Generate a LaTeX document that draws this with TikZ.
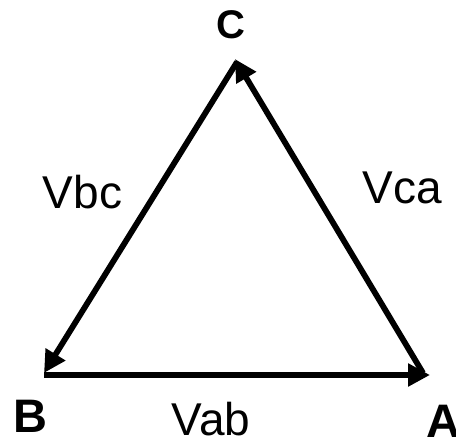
\documentclass[tikz,border=0pt]{standalone}
\usepackage{fontspec}
\setmainfont{Liberation Sans}
\usetikzlibrary{arrows.meta}
\begin{document}
\begin{tikzpicture}[x=1pt,y=-1pt,
  side/.style={line width=5.8pt,-{Triangle[length=22pt,width=22pt]}},
  vertex/.style={font=\bfseries\fontsize{47}{50}\selectfont,inner sep=0pt},
  vlabel/.style={font=\fontsize{46}{50}\selectfont,inner sep=0pt}]
\useasboundingbox (0,0) rectangle (456,445);
\coordinate (cB) at (44,375);
\coordinate (cA) at (430,375);
\coordinate (cAs) at (423,373);
\coordinate (cC) at (235,59);
\coordinate (cCs) at (237,62);
\coordinate (cBt) at (44,373);
\draw[side] (cB) -- (cA);
\draw[side] (cAs) -- (cC);
\draw[side] (cCs) -- (cBt);
\node[vertex,font=\bfseries\fontsize{40}{44}\selectfont,anchor=base] (C) at (230.5,38) {C};
\node[vertex,anchor=base west] (B) at (13,432) {B};
\node[vertex,anchor=base west] (A) at (426,437) {A};
\node[vlabel,anchor=base] (vbc) at (82.5,208) {Vbc};
\node[vlabel,anchor=base] (vca) at (402.5,203) {Vca};
\node[vlabel,anchor=base] (vab) at (211,435) {Vab};
\end{tikzpicture}
\end{document}
